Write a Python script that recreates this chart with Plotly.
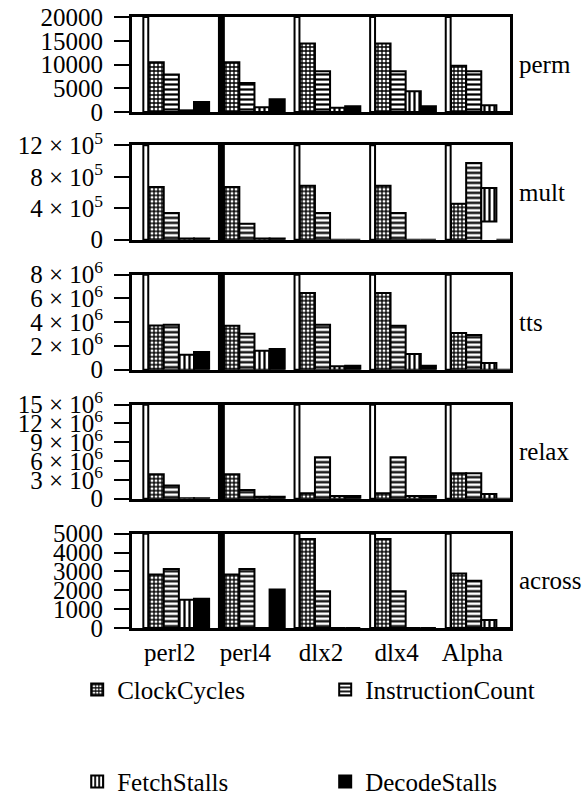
import plotly.graph_objects as go

# ---------------- data ----------------
categories = ["perl2", "perl4", "dlx2", "dlx4", "Alpha"]
series_names = ["ClockCycles", "InstructionCount", "FetchStalls", "DecodeStalls"]
panel_names = ["perm", "mult", "tts", "relax", "across"]

# perm
perm_clock = [10500, 10500, 14400, 14400, 9750]
perm_instr = [7900, 6100, 8600, 8600, 8600]
perm_fetch = [350, 1000, 900, 4350, 1400]
perm_decode = [2100, 2700, 1200, 1200, 0]
perm_decode_base = [0, -1100, 0, 0, 0]

# mult
mult_clock = [670000, 670000, 687000, 687000, 458000]
mult_instr = [339000, 204000, 339000, 339000, 976000]
mult_instr_base = [0, 0, 0, 0, -80000]
mult_fetch = [15000, 15000, 0, 0, 658000]
mult_fetch_base = [0, 0, 0, 0, 233000]
mult_decode = [15000, 15000, 0, 0, 0]

# tts
tts_clock = [3.73e6, 3.70e6, 6.46e6, 6.46e6, 3.09e6]
tts_instr = [3.79e6, 3.03e6, 3.79e6, 3.70e6, 2.92e6]
tts_fetch = [1.26e6, 1.60e6, 0.28e6, 1.32e6, 0.56e6]
tts_decode = [1.49e6, 1.74e6, 0.34e6, 0.34e6, 0.0]

# relax
relax_clock = [3.9e6, 3.9e6, 0.85e6, 0.85e6, 4.06e6]
relax_instr = [2.08e6, 1.39e6, 6.62e6, 6.62e6, 4.06e6]
relax_fetch = [0.08e6, 0.32e6, 0.43e6, 0.43e6, 0.75e6]
relax_decode = [0.08e6, 0.32e6, 0.43e6, 0.43e6, 0.0]

# across
across_clock = [2840, 2840, 4714, 4714, 2890]
across_instr = [3125, 3125, 1950, 1950, 2500]
across_fetch = [1500, 0, 0, 0, 430]
across_decode = [1550, 2036, 0, 0, 0]

# axis ticks
perm_ticks = [0, 5000, 10000, 15000, 20000]
perm_ticktext = ["0", "5000", "10000", "15000", "20000"]
mult_ticks = [0, 4e5, 8e5, 12e5]
mult_ticktext = ["0", "4 × 10<sup>5</sup>", "8 × 10<sup>5</sup>", "12 × 10<sup>5</sup>"]
tts_ticks = [0, 2e6, 4e6, 6e6, 8e6]
tts_ticktext = ["0", "2 × 10<sup>6</sup>", "4 × 10<sup>6</sup>", "6 × 10<sup>6</sup>", "8 × 10<sup>6</sup>"]
relax_ticks = [0, 3e6, 6e6, 9e6, 12e6, 15e6]
relax_ticktext = ["0", "3 × 10<sup>6</sup>", "6 × 10<sup>6</sup>", "9 × 10<sup>6</sup>",
                  "12 × 10<sup>6</sup>", "15 × 10<sup>6</sup>"]
across_ticks = [0, 1000, 2000, 3000, 4000, 5000]
across_ticktext = ["0", "1000", "2000", "3000", "4000", "5000"]

# ---------------- assembly ----------------
zeros = [0, 0, 0, 0, 0]
panels = [
    dict(vals=[perm_clock, perm_instr, perm_fetch, perm_decode],
         bases=[zeros, zeros, zeros, perm_decode_base],
         ticks=perm_ticks, ticktext=perm_ticktext),
    dict(vals=[mult_clock, mult_instr, mult_fetch, mult_decode],
         bases=[zeros, mult_instr_base, mult_fetch_base, zeros],
         ticks=mult_ticks, ticktext=mult_ticktext),
    dict(vals=[tts_clock, tts_instr, tts_fetch, tts_decode],
         bases=[zeros] * 4, ticks=tts_ticks, ticktext=tts_ticktext),
    dict(vals=[relax_clock, relax_instr, relax_fetch, relax_decode],
         bases=[zeros] * 4, ticks=relax_ticks, ticktext=relax_ticktext),
    dict(vals=[across_clock, across_instr, across_fetch, across_decode],
         bases=[zeros] * 4, ticks=across_ticks, ticktext=across_ticktext),
]

FONT = "Liberation Serif, Times New Roman, serif"
bar_w = 0.2
offsets = [-0.28, -0.08, 0.12, 0.32]
patterns = [
    dict(shape="+", fgcolor="black", bgcolor="white", size=4, solidity=0.55, fillmode="replace"),
    dict(shape="-", fgcolor="black", bgcolor="white", size=5, solidity=0.45, fillmode="replace"),
    dict(shape="|", fgcolor="black", bgcolor="white", size=5, solidity=0.45, fillmode="replace"),
    None,
]
legend_ids = ["legend", "legend", "legend2", "legend2"]

domains = [(0.8445, 1.0), (0.6355, 0.7899), (0.4228, 0.5782), (0.2117, 0.3655), (0.0, 0.1543)]

xpos = list(range(len(categories)))
fig = go.Figure()

for p, pan in enumerate(panels):
    ax = "" if p == 0 else str(p + 1)
    for s in range(4):
        vals = pan["vals"][s]
        base = pan["bases"][s]
        heights = [v - b for v, b in zip(vals, base)]
        marker = dict(color="white" if patterns[s] else "black",
                      line=dict(color="black", width=2))
        if patterns[s]:
            marker["pattern"] = patterns[s]
        needs_unclip = any(b != 0 for b in base)
        fig.add_trace(go.Bar(
            x=xpos, y=heights, base=base,
            width=bar_w, offset=offsets[s],
            marker=marker, name=series_names[s],
            xaxis="x" + ax, yaxis="y" + ax,
            showlegend=(p == 0), legend=legend_ids[s],
            cliponaxis=not needs_unclip,
        ))

    # group separators (narrow full-height outlined strips)
    for i in xpos:
        fig.add_shape(type="rect", xref="x" + ax, yref="y" + ax + " domain",
                      x0=i - 0.35, x1=i - 0.285, y0=0, y1=1,
                      line=dict(color="black", width=2),
                      fillcolor="black" if i == 1 else "white", layer="above")

    ymax = pan["ticks"][-1]
    fig.layout["xaxis" + ax] = dict(
        range=[-0.5, 4.5], anchor="y" + ax, domain=[0, 1],
        showline=True, mirror=True, linewidth=3, linecolor="black",
        showgrid=False, zeroline=False, ticks="",
        tickvals=xpos, ticktext=categories,
        showticklabels=(p == 4), tickfont=dict(family=FONT, size=25, color="black"),
        ticklabelstandoff=0,
    )
    fig.layout["yaxis" + ax] = dict(
        range=[0, ymax], anchor="x" + ax, domain=list(domains[p]),
        showline=True, mirror=True, linewidth=3, linecolor="black",
        showgrid=False, zeroline=False,
        ticks="outside", ticklen=15, tickwidth=2, tickcolor="black",
        tickvals=pan["ticks"], ticktext=pan["ticktext"],
        tickfont=dict(family=FONT, size=25, color="black"),
        ticklabelstandoff=6,
    )
    fig.add_annotation(text=panel_names[p], xref="paper", yref="paper",
                       x=1.018, y=(domains[p][0] + domains[p][1]) / 2,
                       xanchor="left", yanchor="middle", showarrow=False,
                       font=dict(family=FONT, size=25, color="black"))

fig.update_layout(
    width=584, height=798,
    margin=dict(l=132, r=74, t=17, b=170, autoexpand=False),
    paper_bgcolor="white", plot_bgcolor="white",
    barmode="overlay",
    font=dict(family=FONT, size=25, color="black"),
    legend=dict(orientation="h", x=-0.145, xanchor="left", y=-0.101, yanchor="middle",
                entrywidth=203, entrywidthmode="pixels",
                font=dict(family=FONT, size=25, color="black"), bgcolor="rgba(0,0,0,0)"),
    legend2=dict(orientation="h", x=-0.145, xanchor="left", y=-0.2515, yanchor="middle",
                 entrywidth=203, entrywidthmode="pixels",
                 font=dict(family=FONT, size=25, color="black"), bgcolor="rgba(0,0,0,0)"),
)

fig.write_html("out.html")
